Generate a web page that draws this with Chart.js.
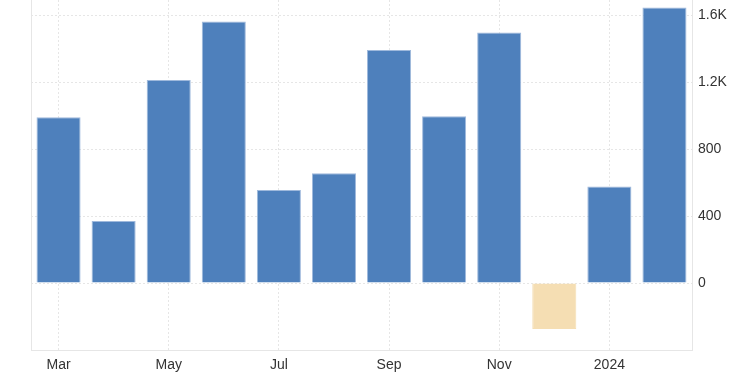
<!DOCTYPE html>
<html>
<head>
<meta charset="utf-8">
<script src="https://cdn.jsdelivr.net/npm/chart.js@4/dist/chart.umd.min.js"></script>
<style>
  html, body { margin: 0; padding: 0; background: #fff; }
  #wrap { width: 750px; height: 375px; }
</style>
</head>
<body>
<div id="wrap"><canvas id="chart" width="750" height="375"></canvas></div>
<script>
const months = ['Mar', 'Apr', 'May', 'Jun', 'Jul', 'Aug', 'Sep', 'Oct', 'Nov', 'Dec', '2024', 'Feb'];
const values = [990, 371, 1212, 1562, 555, 655, 1391, 996, 1496, -274, 577, 1645];
const yTicks = [0, 400, 800, 1200, 1600];

const blue = '#4e80bc', wheat = '#f5deb3';
const gridColor = '#e6e6e6';

const fmt = v => Math.abs(v) >= 1000 ? (v / 1000).toFixed(1) + 'K' : String(v);

const leftFrame = {
    id: 'leftFrame',
    beforeDatasetsDraw(chart) {
        const {ctx, chartArea} = chart;
        ctx.save();
        ctx.strokeStyle = gridColor;
        ctx.lineWidth = 1;
        ctx.beginPath();
        ctx.moveTo(chartArea.left + 0.5, chartArea.top);
        ctx.lineTo(chartArea.left + 0.5, chartArea.bottom);
        ctx.stroke();
        ctx.restore();
    }
};

new Chart(document.getElementById('chart'), {
    type: 'bar',
    data: {
        labels: months,
        datasets: [{
            data: values,
            backgroundColor: values.map(v => v < 0 ? wheat : blue),
            borderColor: values.map(v => v < 0 ? wheat : '#9fb9dc'),
            borderWidth: 1,
            categoryPercentage: 1,
            barPercentage: 0.8
        }]
    },
    options: {
        responsive: false,
        animation: false,
        layout: {padding: {left: 31, top: 0, right: 0, bottom: 0}},
        plugins: {legend: {display: false}, tooltip: {enabled: false}},
        scales: {
            x: {
                afterFit: s => { s.height = 25; s.paddingLeft = 0; s.paddingRight = 0; },
                grid: {
                    offset: false,
                    drawTicks: false,
                    color: ctx => ctx.index % 2 === 0 ? gridColor : 'transparent'
                },
                border: {display: true, color: gridColor, dash: [2, 2]},
                ticks: {
                    autoSkip: false,
                    maxRotation: 0,
                    padding: 7,
                    color: '#333',
                    font: {family: 'Liberation Sans, Arial, sans-serif', size: 14},
                    callback: (v, i) => i % 2 === 0 ? months[i] : ''
                }
            },
            y: {
                position: 'right',
                min: -400,
                max: 1690,
                afterFit: s => { s.width = 58; s.paddingTop = 0; s.paddingBottom = 0; },
                afterBuildTicks: s => { s.ticks = yTicks.map(v => ({value: v})); },
                grid: {drawTicks: false, color: gridColor},
                border: {display: true, color: gridColor, dash: [2, 2]},
                ticks: {
                    padding: 6,
                    color: '#333',
                    font: {family: 'Liberation Sans, Arial, sans-serif', size: 14},
                    callback: v => fmt(v)
                }
            }
        }
    },
    plugins: [leftFrame]
});
</script>
</body>
</html>
